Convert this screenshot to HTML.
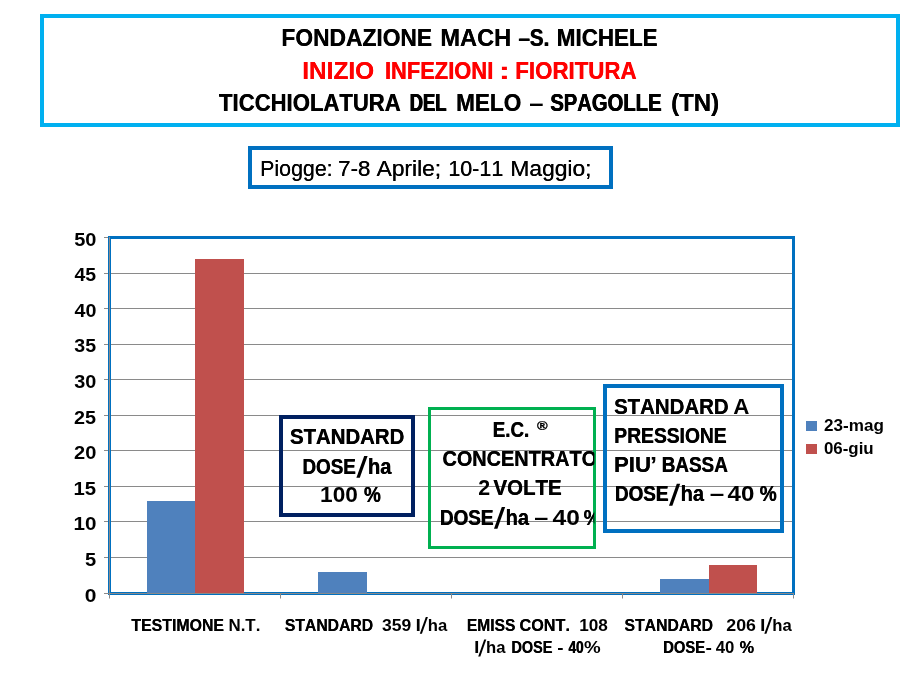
<!DOCTYPE html>
<html><head><meta charset="utf-8"><title>chart</title>
<style>
html,body{margin:0;padding:0;background:#fff;}
svg{display:block;font-family:"Liberation Sans",sans-serif;font-kerning:none;will-change:transform;}
text{white-space:pre;}
</style></head><body>
<svg width="918" height="691" viewBox="0 0 918 691">
<rect width="918" height="691" fill="#fff"/>
<rect x="42" y="16" width="856" height="109" fill="#fff" stroke="#00B0F0" stroke-width="4"/>
<rect x="250" y="148" width="361" height="39" fill="#fff" stroke="#0070C0" stroke-width="4"/>
<rect x="110" y="557" width="683" height="1" fill="#8a8a8a"/>
<rect x="110" y="521" width="683" height="1" fill="#8a8a8a"/>
<rect x="110" y="486" width="683" height="1" fill="#8a8a8a"/>
<rect x="110" y="450" width="683" height="1" fill="#8a8a8a"/>
<rect x="110" y="415" width="683" height="1" fill="#8a8a8a"/>
<rect x="110" y="379" width="683" height="1" fill="#8a8a8a"/>
<rect x="110" y="344" width="683" height="1" fill="#8a8a8a"/>
<rect x="110" y="308" width="683" height="1" fill="#8a8a8a"/>
<rect x="110" y="273" width="683" height="1" fill="#8a8a8a"/>
<rect x="104" y="593" width="5.5" height="1" fill="#8a8a8a"/>
<rect x="104" y="557" width="5.5" height="1" fill="#8a8a8a"/>
<rect x="104" y="521" width="5.5" height="1" fill="#8a8a8a"/>
<rect x="104" y="486" width="5.5" height="1" fill="#8a8a8a"/>
<rect x="104" y="450" width="5.5" height="1" fill="#8a8a8a"/>
<rect x="104" y="415" width="5.5" height="1" fill="#8a8a8a"/>
<rect x="104" y="379" width="5.5" height="1" fill="#8a8a8a"/>
<rect x="104" y="344" width="5.5" height="1" fill="#8a8a8a"/>
<rect x="104" y="308" width="5.5" height="1" fill="#8a8a8a"/>
<rect x="104" y="273" width="5.5" height="1" fill="#8a8a8a"/>
<rect x="104" y="237" width="5.5" height="1" fill="#8a8a8a"/>
<rect x="109.5" y="237.5" width="684" height="356" fill="none" stroke="#0070C0" stroke-width="3"/>
<rect x="147" y="501" width="48" height="92" fill="#4F81BD"/>
<rect x="195" y="259" width="49" height="334" fill="#C0504D"/>
<rect x="318" y="572" width="49" height="21" fill="#4F81BD"/>
<rect x="660" y="579" width="49" height="14" fill="#4F81BD"/>
<rect x="709" y="565" width="48" height="28" fill="#C0504D"/>
<rect x="104" y="593" width="690" height="1" fill="#8a8a8a"/>
<rect x="109" y="237" width="1" height="361.5" fill="#8a8a8a"/>
<rect x="280.00" y="594" width="1" height="4.5" fill="#8a8a8a"/>
<rect x="451.00" y="594" width="1" height="4.5" fill="#8a8a8a"/>
<rect x="622.00" y="594" width="1" height="4.5" fill="#8a8a8a"/>
<rect x="793.00" y="594" width="1" height="4.5" fill="#8a8a8a"/>
<rect x="281" y="417" width="132" height="98" fill="none" stroke="#002060" stroke-width="4"/>
<rect x="605" y="386" width="177" height="145" fill="none" stroke="#0070C0" stroke-width="4"/>
<text x="281.28" y="45.80" font-size="24.5" font-weight="bold" fill="#000" textLength="150.67" lengthAdjust="spacingAndGlyphs">FONDAZIONE</text><text x="281.62" y="45.80" font-size="24.5" font-weight="bold" fill="#000" textLength="150.67" lengthAdjust="spacingAndGlyphs">FONDAZIONE</text>
<text x="440.22" y="45.80" font-size="24.5" font-weight="bold" fill="#000" textLength="70.85" lengthAdjust="spacingAndGlyphs">MACH</text><text x="440.44" y="45.80" font-size="24.5" font-weight="bold" fill="#000" textLength="70.85" lengthAdjust="spacingAndGlyphs">MACH</text>
<text x="518.28" y="45.80" font-size="24.5" font-weight="bold" fill="#000" textLength="30.64" lengthAdjust="spacingAndGlyphs">–S.</text><text x="518.97" y="45.80" font-size="24.5" font-weight="bold" fill="#000" textLength="30.64" lengthAdjust="spacingAndGlyphs">–S.</text>
<text x="556.60" y="45.80" font-size="24.5" font-weight="bold" fill="#000" textLength="100.77" lengthAdjust="spacingAndGlyphs">MICHELE</text><text x="557.00" y="45.80" font-size="24.5" font-weight="bold" fill="#000" textLength="100.77" lengthAdjust="spacingAndGlyphs">MICHELE</text>
<text x="302.17" y="79.00" font-size="24.5" font-weight="bold" fill="#FF0000" textLength="71.95" lengthAdjust="spacingAndGlyphs">INIZIO</text><text x="302.27" y="79.00" font-size="24.5" font-weight="bold" fill="#FF0000" textLength="71.95" lengthAdjust="spacingAndGlyphs">INIZIO</text>
<text x="384.74" y="79.00" font-size="24.5" font-weight="bold" fill="#FF0000" textLength="108.26" lengthAdjust="spacingAndGlyphs">INFEZIONI</text><text x="385.21" y="79.00" font-size="24.5" font-weight="bold" fill="#FF0000" textLength="108.26" lengthAdjust="spacingAndGlyphs">INFEZIONI</text>
<text x="498.58" y="79.00" font-size="24.5" font-weight="bold" fill="#FF0000" textLength="11.84" lengthAdjust="spacingAndGlyphs">:</text>
<text x="515.11" y="79.00" font-size="24.5" font-weight="bold" fill="#FF0000" textLength="121.26" lengthAdjust="spacingAndGlyphs">FIORITURA</text><text x="515.53" y="79.00" font-size="24.5" font-weight="bold" fill="#FF0000" textLength="121.26" lengthAdjust="spacingAndGlyphs">FIORITURA</text>
<text x="218.85" y="110.90" font-size="24.5" font-weight="bold" fill="#000" textLength="181.69" lengthAdjust="spacingAndGlyphs">TICCHIOLATURA</text><text x="219.30" y="110.90" font-size="24.5" font-weight="bold" fill="#000" textLength="181.69" lengthAdjust="spacingAndGlyphs">TICCHIOLATURA</text>
<text x="409.37" y="110.90" font-size="24.5" font-weight="bold" fill="#000" textLength="36.71" lengthAdjust="spacingAndGlyphs">DEL</text><text x="409.86" y="110.90" font-size="24.5" font-weight="bold" fill="#000" textLength="36.71" lengthAdjust="spacingAndGlyphs">DEL</text><text x="410.36" y="110.90" font-size="24.5" font-weight="bold" fill="#000" textLength="36.71" lengthAdjust="spacingAndGlyphs">DEL</text>
<text x="455.89" y="110.90" font-size="24.5" font-weight="bold" fill="#000" textLength="65.18" lengthAdjust="spacingAndGlyphs">MELO</text><text x="456.27" y="110.90" font-size="24.5" font-weight="bold" fill="#000" textLength="65.18" lengthAdjust="spacingAndGlyphs">MELO</text>
<text x="529.22" y="110.90" font-size="24.5" font-weight="bold" fill="#000" textLength="14.27" lengthAdjust="spacingAndGlyphs">–</text>
<text x="549.92" y="110.90" font-size="24.5" font-weight="bold" fill="#000" textLength="111.26" lengthAdjust="spacingAndGlyphs">SPAGOLLE</text><text x="550.27" y="110.90" font-size="24.5" font-weight="bold" fill="#000" textLength="111.26" lengthAdjust="spacingAndGlyphs">SPAGOLLE</text><text x="550.63" y="110.90" font-size="24.5" font-weight="bold" fill="#000" textLength="111.26" lengthAdjust="spacingAndGlyphs">SPAGOLLE</text>
<text x="671.00" y="110.90" font-size="24.5" font-weight="bold" fill="#000" textLength="48.03" lengthAdjust="spacingAndGlyphs">(TN)</text><text x="671.17" y="110.90" font-size="24.5" font-weight="bold" fill="#000" textLength="48.03" lengthAdjust="spacingAndGlyphs">(TN)</text>
<text x="260.05" y="175.60" font-size="22.6" font-weight="normal" fill="#000" textLength="72.40" lengthAdjust="spacingAndGlyphs">Piogge:</text><text x="260.35" y="175.60" font-size="22.6" font-weight="normal" fill="#000" textLength="72.40" lengthAdjust="spacingAndGlyphs">Piogge:</text>
<text x="338.06" y="175.60" font-size="22.6" font-weight="normal" fill="#000" textLength="32.21" lengthAdjust="spacingAndGlyphs">7-8</text><text x="338.36" y="175.60" font-size="22.6" font-weight="normal" fill="#000" textLength="32.21" lengthAdjust="spacingAndGlyphs">7-8</text>
<text x="376.46" y="175.60" font-size="22.6" font-weight="normal" fill="#000" textLength="64.49" lengthAdjust="spacingAndGlyphs">Aprile;</text><text x="376.76" y="175.60" font-size="22.6" font-weight="normal" fill="#000" textLength="64.49" lengthAdjust="spacingAndGlyphs">Aprile;</text>
<text x="448.16" y="175.60" font-size="22.6" font-weight="normal" fill="#000" textLength="54.99" lengthAdjust="spacingAndGlyphs">10-11</text><text x="448.46" y="175.60" font-size="22.6" font-weight="normal" fill="#000" textLength="54.99" lengthAdjust="spacingAndGlyphs">10-11</text>
<text x="510.33" y="175.60" font-size="22.6" font-weight="normal" fill="#000" textLength="81.01" lengthAdjust="spacingAndGlyphs">Maggio;</text><text x="510.63" y="175.60" font-size="22.6" font-weight="normal" fill="#000" textLength="81.01" lengthAdjust="spacingAndGlyphs">Maggio;</text>
<text x="84.77" y="601.50" font-size="18.7" font-weight="bold" fill="#000" textLength="11.69" lengthAdjust="spacingAndGlyphs">0</text>
<text x="84.98" y="565.90" font-size="18.7" font-weight="bold" fill="#000" textLength="11.18" lengthAdjust="spacingAndGlyphs">5</text>
<text x="73.50" y="530.30" font-size="18.7" font-weight="bold" fill="#000" textLength="22.95" lengthAdjust="spacingAndGlyphs">10</text>
<text x="73.52" y="494.70" font-size="18.7" font-weight="bold" fill="#000" textLength="22.65" lengthAdjust="spacingAndGlyphs">15</text>
<text x="74.10" y="459.10" font-size="18.7" font-weight="bold" fill="#000" textLength="22.32" lengthAdjust="spacingAndGlyphs">20</text>
<text x="74.11" y="423.50" font-size="18.7" font-weight="bold" fill="#000" textLength="22.04" lengthAdjust="spacingAndGlyphs">25</text>
<text x="74.34" y="387.90" font-size="18.7" font-weight="bold" fill="#000" textLength="22.07" lengthAdjust="spacingAndGlyphs">30</text>
<text x="74.35" y="352.30" font-size="18.7" font-weight="bold" fill="#000" textLength="21.80" lengthAdjust="spacingAndGlyphs">35</text>
<text x="74.50" y="316.70" font-size="18.7" font-weight="bold" fill="#000" textLength="21.91" lengthAdjust="spacingAndGlyphs">40</text>
<text x="74.51" y="281.10" font-size="18.7" font-weight="bold" fill="#000" textLength="21.64" lengthAdjust="spacingAndGlyphs">45</text>
<text x="74.19" y="245.50" font-size="18.7" font-weight="bold" fill="#000" textLength="22.23" lengthAdjust="spacingAndGlyphs">50</text>
<text x="131.32" y="630.60" font-size="16.5" font-weight="bold" fill="#000" textLength="92.64" lengthAdjust="spacingAndGlyphs">TESTIMONE</text><text x="131.48" y="630.60" font-size="16.5" font-weight="bold" fill="#000" textLength="92.64" lengthAdjust="spacingAndGlyphs">TESTIMONE</text>
<text x="228.47" y="630.60" font-size="16.5" font-weight="bold" fill="#000" textLength="31.89" lengthAdjust="spacingAndGlyphs">N.T.</text>
<text x="284.75" y="630.60" font-size="16.5" font-weight="bold" fill="#000" textLength="88.34" lengthAdjust="spacingAndGlyphs">STANDARD</text><text x="284.92" y="630.60" font-size="16.5" font-weight="bold" fill="#000" textLength="88.34" lengthAdjust="spacingAndGlyphs">STANDARD</text>
<text x="382.00" y="630.60" font-size="16.5" font-weight="bold" fill="#000" textLength="29.25" lengthAdjust="spacingAndGlyphs">359</text>
<text x="415.53" y="630.60" font-size="16.5" font-weight="bold" fill="#000" textLength="5.47" lengthAdjust="spacingAndGlyphs">l</text>
<polygon points="419.80,633.80 421.90,633.80 427.90,616.90 425.80,616.90" fill="#000"/>
<text x="427.74" y="630.60" font-size="16.5" font-weight="bold" fill="#000" textLength="19.46" lengthAdjust="spacingAndGlyphs">ha</text>
<text x="466.76" y="630.60" font-size="16.5" font-weight="bold" fill="#000" textLength="48.56" lengthAdjust="spacingAndGlyphs">EMISS</text><text x="466.95" y="630.60" font-size="16.5" font-weight="bold" fill="#000" textLength="48.56" lengthAdjust="spacingAndGlyphs">EMISS</text>
<text x="519.43" y="630.60" font-size="16.5" font-weight="bold" fill="#000" textLength="50.48" lengthAdjust="spacingAndGlyphs">CONT.</text><text x="519.54" y="630.60" font-size="16.5" font-weight="bold" fill="#000" textLength="50.48" lengthAdjust="spacingAndGlyphs">CONT.</text>
<text x="579.22" y="630.60" font-size="16.5" font-weight="bold" fill="#000" textLength="28.61" lengthAdjust="spacingAndGlyphs">108</text>
<text x="473.93" y="653.20" font-size="16.5" font-weight="bold" fill="#000" textLength="5.47" lengthAdjust="spacingAndGlyphs">l</text>
<polygon points="478.20,656.40 480.30,656.40 486.30,639.50 484.20,639.50" fill="#000"/>
<text x="486.14" y="653.20" font-size="16.5" font-weight="bold" fill="#000" textLength="19.46" lengthAdjust="spacingAndGlyphs">ha</text>
<text x="511.34" y="653.20" font-size="16.5" font-weight="bold" fill="#000" textLength="40.86" lengthAdjust="spacingAndGlyphs">DOSE</text><text x="511.70" y="653.20" font-size="16.5" font-weight="bold" fill="#000" textLength="40.86" lengthAdjust="spacingAndGlyphs">DOSE</text>
<text x="557.26" y="653.20" font-size="16.5" font-weight="bold" fill="#000" textLength="6.30" lengthAdjust="spacingAndGlyphs">-</text>
<text x="568.19" y="653.20" font-size="16.5" font-weight="bold" fill="#000" textLength="15.31" lengthAdjust="spacingAndGlyphs">40</text><text x="568.65" y="653.20" font-size="16.5" font-weight="bold" fill="#000" textLength="15.31" lengthAdjust="spacingAndGlyphs">40</text>
<text x="584.13" y="653.20" font-size="16.5" font-weight="bold" fill="#000" textLength="16.66" lengthAdjust="spacingAndGlyphs">%</text>
<text x="624.45" y="630.60" font-size="16.5" font-weight="bold" fill="#000" textLength="88.55" lengthAdjust="spacingAndGlyphs">STANDARD</text><text x="624.61" y="630.60" font-size="16.5" font-weight="bold" fill="#000" textLength="88.55" lengthAdjust="spacingAndGlyphs">STANDARD</text>
<text x="726.28" y="630.60" font-size="16.5" font-weight="bold" fill="#000" textLength="29.66" lengthAdjust="spacingAndGlyphs">206</text>
<text x="760.03" y="630.60" font-size="16.5" font-weight="bold" fill="#000" textLength="5.47" lengthAdjust="spacingAndGlyphs">l</text>
<polygon points="764.30,633.80 766.40,633.80 772.40,616.90 770.30,616.90" fill="#000"/>
<text x="772.24" y="630.60" font-size="16.5" font-weight="bold" fill="#000" textLength="19.46" lengthAdjust="spacingAndGlyphs">ha</text>
<text x="663.11" y="653.20" font-size="16.5" font-weight="bold" fill="#000" textLength="41.85" lengthAdjust="spacingAndGlyphs">DOSE</text><text x="663.43" y="653.20" font-size="16.5" font-weight="bold" fill="#000" textLength="41.85" lengthAdjust="spacingAndGlyphs">DOSE</text>
<text x="705.55" y="653.20" font-size="16.5" font-weight="bold" fill="#000" textLength="6.43" lengthAdjust="spacingAndGlyphs">-</text>
<text x="715.75" y="653.20" font-size="16.5" font-weight="bold" fill="#000" textLength="18.64" lengthAdjust="spacingAndGlyphs">40</text>
<text x="739.60" y="653.20" font-size="16.5" font-weight="bold" fill="#000" textLength="14.43" lengthAdjust="spacingAndGlyphs">%</text><text x="739.70" y="653.20" font-size="16.5" font-weight="bold" fill="#000" textLength="14.43" lengthAdjust="spacingAndGlyphs">%</text>
<rect x="806" y="421" width="11" height="10" fill="#4F81BD"/>
<rect x="806" y="444" width="11" height="10" fill="#C0504D"/>
<text x="824.01" y="430.50" font-size="15.7" font-weight="bold" fill="#000" textLength="59.84" lengthAdjust="spacingAndGlyphs">23-mag</text>
<text x="823.93" y="453.60" font-size="15.7" font-weight="bold" fill="#000" textLength="49.78" lengthAdjust="spacingAndGlyphs">06-giu</text>
<text x="289.81" y="443.50" font-size="22" font-weight="bold" fill="#000" textLength="114.42" lengthAdjust="spacingAndGlyphs">STANDARD</text><text x="290.13" y="443.50" font-size="22" font-weight="bold" fill="#000" textLength="114.42" lengthAdjust="spacingAndGlyphs">STANDARD</text>
<text x="302.14" y="473.50" font-size="22" font-weight="bold" fill="#000" textLength="53.46" lengthAdjust="spacingAndGlyphs">DOSE</text><text x="302.68" y="473.50" font-size="22" font-weight="bold" fill="#000" textLength="53.46" lengthAdjust="spacingAndGlyphs">DOSE</text>
<polygon points="356.40,477.80 359.80,477.80 367.60,455.90 364.20,455.90" fill="#000"/>
<text x="367.80" y="473.50" font-size="22" font-weight="bold" fill="#000" textLength="23.41" lengthAdjust="spacingAndGlyphs">ha</text><text x="368.17" y="473.50" font-size="22" font-weight="bold" fill="#000" textLength="23.41" lengthAdjust="spacingAndGlyphs">ha</text>
<text x="320.07" y="502.40" font-size="22" font-weight="bold" fill="#000" textLength="37.75" lengthAdjust="spacingAndGlyphs">100</text>
<text x="363.73" y="502.40" font-size="22" font-weight="bold" fill="#000" textLength="16.84" lengthAdjust="spacingAndGlyphs">%</text><text x="364.26" y="502.40" font-size="22" font-weight="bold" fill="#000" textLength="16.84" lengthAdjust="spacingAndGlyphs">%</text>
<rect x="429.5" y="408.5" width="165" height="139" fill="none" stroke="#00B050" stroke-width="3"/>
<clipPath id="gc"><rect x="420" y="400" width="174.2" height="160"/></clipPath>
<g clip-path="url(#gc)">
<text x="492.54" y="436.60" font-size="22" font-weight="bold" fill="#000" textLength="36.49" lengthAdjust="spacingAndGlyphs">E.C.</text><text x="493.10" y="436.60" font-size="22" font-weight="bold" fill="#000" textLength="36.49" lengthAdjust="spacingAndGlyphs">E.C.</text>
<text x="536.97" y="430.00" font-size="13.4" font-weight="bold" fill="#000" textLength="10.64" lengthAdjust="spacingAndGlyphs" stroke="#000" stroke-width="0.35">®</text>
<text x="442.28" y="465.60" font-size="22" font-weight="bold" fill="#000" textLength="154.66" lengthAdjust="spacingAndGlyphs">CONCENTRATO</text><text x="442.68" y="465.60" font-size="22" font-weight="bold" fill="#000" textLength="154.66" lengthAdjust="spacingAndGlyphs">CONCENTRATO</text>
<text x="478.16" y="494.50" font-size="22" font-weight="bold" fill="#000" textLength="11.90" lengthAdjust="spacingAndGlyphs">2</text>
<text x="493.36" y="494.50" font-size="22" font-weight="bold" fill="#000" textLength="68.12" lengthAdjust="spacingAndGlyphs">VOLTE</text><text x="493.67" y="494.50" font-size="22" font-weight="bold" fill="#000" textLength="68.12" lengthAdjust="spacingAndGlyphs">VOLTE</text>
<text x="439.74" y="524.50" font-size="22" font-weight="bold" fill="#000" textLength="53.46" lengthAdjust="spacingAndGlyphs">DOSE</text><text x="440.28" y="524.50" font-size="22" font-weight="bold" fill="#000" textLength="53.46" lengthAdjust="spacingAndGlyphs">DOSE</text>
<polygon points="494.00,528.80 497.40,528.80 505.20,506.90 501.80,506.90" fill="#000"/>
<text x="505.40" y="524.50" font-size="22" font-weight="bold" fill="#000" textLength="23.41" lengthAdjust="spacingAndGlyphs">ha</text><text x="505.77" y="524.50" font-size="22" font-weight="bold" fill="#000" textLength="23.41" lengthAdjust="spacingAndGlyphs">ha</text>
<text x="534.34" y="524.50" font-size="22" font-weight="bold" fill="#000" textLength="14.04" lengthAdjust="spacingAndGlyphs">–</text>
<text x="552.63" y="524.50" font-size="22" font-weight="bold" fill="#000" textLength="27.28" lengthAdjust="spacingAndGlyphs">40</text>
<text x="583.42" y="524.50" font-size="22" font-weight="bold" fill="#000" textLength="16.97" lengthAdjust="spacingAndGlyphs">%</text><text x="583.93" y="524.50" font-size="22" font-weight="bold" fill="#000" textLength="16.97" lengthAdjust="spacingAndGlyphs">%</text>
</g>
<text x="613.91" y="413.50" font-size="22" font-weight="bold" fill="#000" textLength="114.63" lengthAdjust="spacingAndGlyphs">STANDARD</text><text x="614.23" y="413.50" font-size="22" font-weight="bold" fill="#000" textLength="114.63" lengthAdjust="spacingAndGlyphs">STANDARD</text>
<text x="733.24" y="413.50" font-size="22" font-weight="bold" fill="#000" textLength="16.15" lengthAdjust="spacingAndGlyphs">A</text>
<text x="614.11" y="442.50" font-size="22" font-weight="bold" fill="#000" textLength="112.25" lengthAdjust="spacingAndGlyphs">PRESSIONE</text><text x="614.60" y="442.50" font-size="22" font-weight="bold" fill="#000" textLength="112.25" lengthAdjust="spacingAndGlyphs">PRESSIONE</text>
<text x="613.91" y="471.60" font-size="22" font-weight="bold" fill="#000" textLength="37.10" lengthAdjust="spacingAndGlyphs">PIU</text><text x="613.96" y="471.60" font-size="22" font-weight="bold" fill="#000" textLength="37.10" lengthAdjust="spacingAndGlyphs">PIU</text>
<text x="650.08" y="471.60" font-size="22" font-weight="bold" fill="#000" textLength="7.04" lengthAdjust="spacingAndGlyphs">’</text>
<text x="661.44" y="471.60" font-size="22" font-weight="bold" fill="#000" textLength="66.13" lengthAdjust="spacingAndGlyphs">BASSA</text><text x="661.97" y="471.60" font-size="22" font-weight="bold" fill="#000" textLength="66.13" lengthAdjust="spacingAndGlyphs">BASSA</text>
<text x="614.74" y="501.40" font-size="22" font-weight="bold" fill="#000" textLength="53.46" lengthAdjust="spacingAndGlyphs">DOSE</text><text x="615.28" y="501.40" font-size="22" font-weight="bold" fill="#000" textLength="53.46" lengthAdjust="spacingAndGlyphs">DOSE</text>
<polygon points="669.00,505.70 672.40,505.70 680.20,483.80 676.80,483.80" fill="#000"/>
<text x="680.40" y="501.40" font-size="22" font-weight="bold" fill="#000" textLength="23.41" lengthAdjust="spacingAndGlyphs">ha</text><text x="680.77" y="501.40" font-size="22" font-weight="bold" fill="#000" textLength="23.41" lengthAdjust="spacingAndGlyphs">ha</text>
<text x="709.81" y="501.40" font-size="22" font-weight="bold" fill="#000" textLength="14.49" lengthAdjust="spacingAndGlyphs">–</text>
<text x="727.53" y="501.40" font-size="22" font-weight="bold" fill="#000" textLength="26.86" lengthAdjust="spacingAndGlyphs">40</text>
<text x="759.52" y="501.40" font-size="22" font-weight="bold" fill="#000" textLength="16.97" lengthAdjust="spacingAndGlyphs">%</text><text x="760.03" y="501.40" font-size="22" font-weight="bold" fill="#000" textLength="16.97" lengthAdjust="spacingAndGlyphs">%</text>
</svg>
</body></html>
